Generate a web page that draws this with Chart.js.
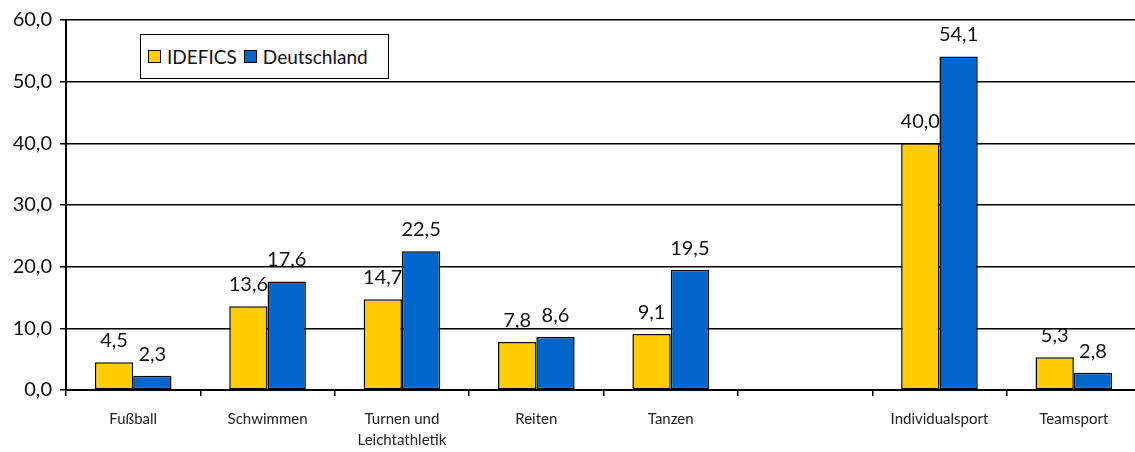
<!DOCTYPE html>
<html>
<head>
<meta charset="utf-8">
<script src="https://cdn.jsdelivr.net/npm/chart.js@4.4.1/dist/chart.umd.min.js"></script>
<style>
html,body{margin:0;padding:0;background:#fff;overflow:hidden;width:1135px;height:452px;}
#wrap{position:relative;width:1141px;height:452px;}
#legend{position:absolute;left:140px;top:34px;width:249px;height:45px;border:1.5px solid #000;background:#fff;
  font-family:Lato,"Open Sans",sans-serif;font-size:19px;color:#111;display:flex;align-items:center;padding-left:7px;box-sizing:border-box;}
#legend .sw{display:inline-block;width:11px;height:11px;border:1.5px solid #000;margin-right:6px;}
#legend .it{display:flex;align-items:center;margin-right:7px;}
</style>
</head>
<body>
<div id="wrap">
<canvas id="c" width="1141" height="452"></canvas>
<div id="legend"></div>
</div>
<script>
const categories = ['Fußball', 'Schwimmen', ['Turnen und', 'Leichtathletik'], 'Reiten', 'Tanzen', '', 'Individualsport', 'Teamsport'];
const seriesNames = ['IDEFICS', 'Deutschland'];
const idefics = [4.5, 13.6, 14.7, 7.8, 9.1, null, 40.0, 5.3];
const deutschland = [2.3, 17.6, 22.5, 8.6, 19.5, null, 54.1, 2.8];
const yTicks = [0, 10, 20, 30, 40, 50, 60];
const colors = ['#FFCC00', '#0066CC'];

const fmt = v => v.toFixed(1).replace('.', ',');

const legend = document.getElementById('legend');
seriesNames.forEach((n, i) => {
  const it = document.createElement('span');
  it.className = 'it';
  it.innerHTML = '<span class="sw" style="background:' + colors[i] + '"></span>' + n;
  legend.appendChild(it);
});

const labelPlugin = {
  id: 'valueLabels',
  afterDatasetsDraw(chart) {
    const ctx = chart.ctx;
    ctx.save();
    ctx.font = '20px Lato, "Open Sans", sans-serif';
    ctx.fillStyle = '#111';
    ctx.textAlign = 'center';
    ctx.textBaseline = 'alphabetic';
    chart.data.datasets.forEach((ds, di) => {
      const meta = chart.getDatasetMeta(di);
      meta.data.forEach((el, i) => {
        const v = ds.data[i];
        if (v === null || v === undefined) return;
        ctx.fillText(fmt(v), el.x, el.y - 15);
      });
    });
    ctx.restore();
  }
};

new Chart(document.getElementById('c'), {
  type: 'bar',
  data: {
    labels: categories,
    datasets: [
      { label: seriesNames[0], data: idefics, backgroundColor: colors[0], borderColor: '#000', borderWidth: 1.5, borderSkipped: false },
      { label: seriesNames[1], data: deutschland, backgroundColor: colors[1], borderColor: '#000', borderWidth: 1.5, borderSkipped: false }
    ]
  },
  options: {
    responsive: false,
    animation: false,
    layout: { padding: { top: 20, right: 0, left: 0, bottom: 0 } },
    plugins: { legend: { display: false }, tooltip: { enabled: false } },
    datasets: { bar: { categoryPercentage: 0.57, barPercentage: 1.0 } },
    scales: {
      x: {
        grid: { display: true, drawOnChartArea: false, drawTicks: true, tickLength: 6, color: '#000', lineWidth: 1.5, offset: true },
        border: { display: true, color: '#000', width: 2 },
        ticks: { color: '#222', font: { family: 'Lato, "Open Sans", sans-serif', size: 15, lineHeight: 1.45 }, padding: 12, maxRotation: 0, autoSkip: false },
        afterFit(scale) { scale.height = 62; }
      },
      y: {
        min: 0, max: 60,
        afterBuildTicks(scale) { scale.ticks = yTicks.map(v => ({ value: v })); },
        grid: { display: true, color: '#000', lineWidth: 1.5, drawTicks: true, tickLength: 6 },
        border: { display: true, color: '#000', width: 2 },
        ticks: { color: '#111', font: { family: 'Lato, "Open Sans", sans-serif', size: 20 }, padding: 8, callback: v => fmt(v) },
        afterFit(scale) { scale.width = 66; }
      }
    }
  },
  plugins: [labelPlugin]
});
</script>
</body>
</html>
